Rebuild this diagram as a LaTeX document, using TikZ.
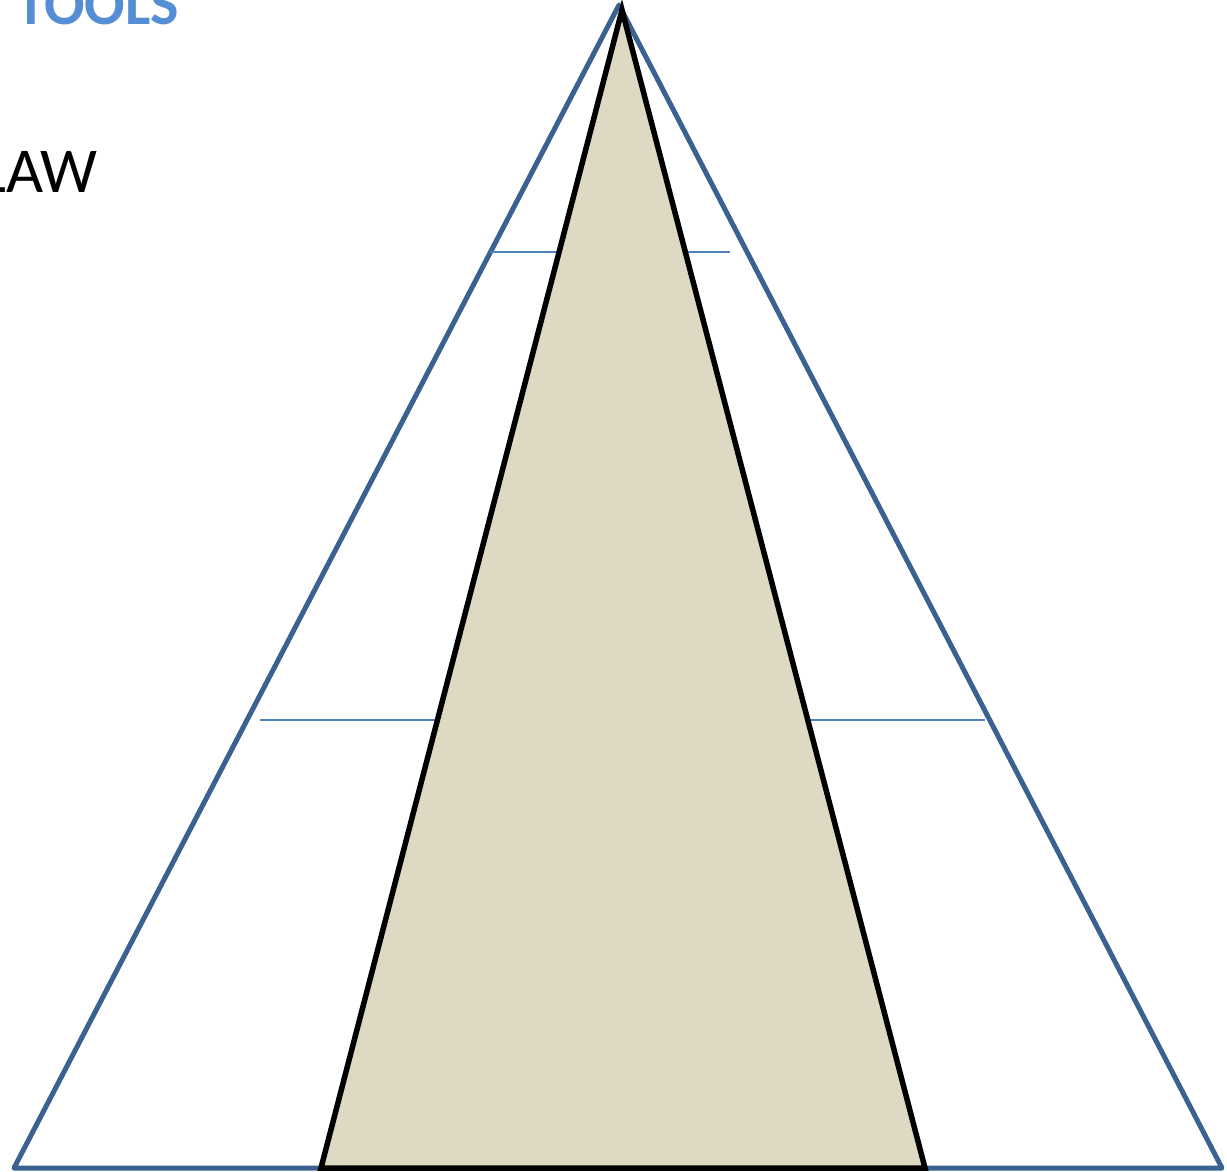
\documentclass[tikz,border=0pt]{standalone}
\usepackage{fontspec}
\setmainfont{Carlito}
\definecolor{outerblue}{HTML}{3A6190}
\definecolor{lineblue}{HTML}{4F81BD}
\definecolor{titleblue}{HTML}{558ED5}
\definecolor{tanfill}{HTML}{DDD9C3}
\begin{document}
\begin{tikzpicture}[x=1pt,y=-1pt,
  outertri/.style={draw=outerblue,line width=5pt,line join=round},
  innertri/.style={draw=black,fill=tanfill,line width=5.5pt,line join=miter},
  levelline/.style={draw=lineblue,line width=2pt},
  lbl/.style={inner sep=0pt,anchor=base west}]
\useasboundingbox (0,0) rectangle (1227,1172);
\clip (0,0) rectangle (1227,1172);
% coordinates
\coordinate (oA) at (619,5);
\coordinate (oL) at (14,1168);
\coordinate (oR) at (1222,1168);
\coordinate (iA) at (622,10);
\coordinate (iL) at (321,1168);
\coordinate (iR) at (925,1168);
\coordinate (h1a) at (490,252);
\coordinate (h1b) at (730,252);
\coordinate (h2a) at (260,720);
\coordinate (h2b) at (985,720);
% outer triangle
\draw[outertri] (oA) -- (oL) -- (oR) -- cycle;
% level lines
\draw[levelline] (h1a) -- (h1b);
\draw[levelline] (h2a) -- (h2b);
% inner triangle
\draw[innertri] (iA) -- (iL) -- (iR) -- cycle;
% texts
\node[lbl,text=titleblue,font=\fontsize{60}{60}\selectfont\bfseries] (tools) at (16,25) {TOOLS};
\node[lbl,text=black,font=\fontsize{64}{64}\selectfont] (law) at (-21,192) {LAW};
\end{tikzpicture}
\end{document}
